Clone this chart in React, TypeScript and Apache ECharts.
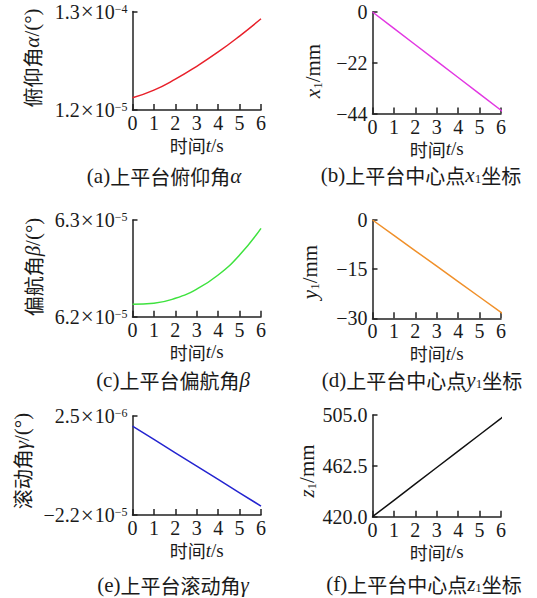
import React, { useEffect, useRef } from "react";
import * as echarts from "echarts";

// Time samples (s)
const TIME = [0, 1, 2, 3, 4, 5, 6];
// Linear traces run slightly past 6 s
const TIME_XY = [0, 1, 2, 3, 4, 5, 6, 6.25];
const TIME_Z = [0, 1, 2, 3, 4, 5, 6, 6.2];

// (a) pitch angle α, in units of 1e-5 °
const PITCH_ALPHA = [2.66, 3.58, 4.89, 6.44, 8.15, 10.06, 12.13];
const PITCH_TICKS = [1.2, 13];

// (b) platform centre x1, mm
const X1 = [0, -7.1, -14.2, -21.3, -28.4, -35.5, -42.6, -44.4];
const X1_TICKS = [-44, -22, 0];

// (c) yaw angle β, in units of 1e-5 °
const YAW_BETA = [6.2128, 6.2139, 6.219, 6.2286, 6.2431, 6.2638, 6.2914];
const YAW_TICKS = [6.2, 6.3];

// (d) platform centre y1, mm
const Y1 = [0, -4.7, -9.4, -14.1, -18.8, -23.5, -28.2, -29.4];
const Y1_TICKS = [-30, -15, 0];

// (e) roll angle γ, in units of 1e-6 °
const ROLL_GAMMA = [0, -3.3, -6.6, -9.9, -13.2, -16.5, -19.8];
const ROLL_TICKS = [-22, 2.5];

// (f) platform centre z1, mm
const Z1 = [420, 433.7, 447.4, 461.1, 474.8, 488.5, 502.2, 505];
const Z1_TICKS = [420, 462.5, 505];

const SERIF = "Liberation Serif";
const CJK = "Noto Sans CJK SC";
const INK = "#1a1a1a";
const AXIS = "#222222";

const rich = (size: number, lh?: number) => ({
  n: { fontFamily: SERIF, fontSize: size, color: INK, lineHeight: lh },
  i: { fontFamily: SERIF, fontSize: size, fontStyle: "italic", color: INK, lineHeight: lh },
  c: { fontFamily: CJK, fontSize: size - 1, color: INK, lineHeight: lh },
  x: {
    fontFamily: SERIF, fontSize: size + 3, color: INK, lineHeight: lh,
    verticalAlign: "middle", padding: [0, 1, 0, 1],
  },
  sup: { fontFamily: SERIF, fontSize: Math.round(size * 0.62), color: INK, verticalAlign: "top" },
  sub: { fontFamily: SERIF, fontSize: Math.round(size * 0.62), color: INK, verticalAlign: "bottom" },
});

const minus = (s: string) => s.replace(/-/g, "\u2212");

// value v expressed in units of 10^unitExp -> "m.m×10^e"
const sciLabel = (unitExp: number) => (v: number) => {
  const p = Math.floor(Math.log10(Math.abs(v)) + 1e-9);
  const mant = v / Math.pow(10, p);
  return `{n|${minus(mant.toFixed(1))}}{x|×}{n|10}{sup|${minus(String(p + unitExp))}}`;
};

const zip = (xs: number[], ys: number[]) => xs.map((x, k) => [x, ys[k]]);

type Panel = {
  grid: { left: number; top: number; width: number; height: number };
  x: number[];
  y: number[];
  color: string;
  smooth: boolean;
  min: number;
  max: number;
  ticks: number[];
  fmt: (v: number) => string;
  yName: string;
  yNamePos: [number, number];
  caption: string;
  captionPos: [number, number];
};

const PANELS: Panel[] = [
  {
    grid: { left: 132.5, top: 11, width: 128.5, height: 99 },
    x: TIME, y: PITCH_ALPHA, color: "#e8202a", smooth: true,
    min: PITCH_TICKS[0], max: PITCH_TICKS[1], ticks: PITCH_TICKS, fmt: sciLabel(-5),
    yName: "{c|俯仰角}{i|α}{n|/(°)}", yNamePos: [32, 58],
    caption: "{n|(a)}{c|上平台俯仰角}{i|α}", captionPos: [164, 176],
  },
  {
    grid: { left: 372.5, top: 12, width: 128.5, height: 101.5 },
    x: TIME_XY, y: X1, color: "#e238e2", smooth: false,
    min: X1_TICKS[0], max: X1_TICKS[2], ticks: X1_TICKS, fmt: (v) => minus(String(v)),
    yName: "{i|x}{sub|1}{n|/mm}", yNamePos: [313, 71],
    caption: "{n|(b)}{c|上平台中心点}{i|x}{sub|1}{c|坐标}", captionPos: [421, 175],
  },
  {
    grid: { left: 132.5, top: 220, width: 128.5, height: 96.7 },
    x: TIME, y: YAW_BETA, color: "#3ee23e", smooth: true,
    min: YAW_TICKS[0], max: YAW_TICKS[1], ticks: YAW_TICKS, fmt: sciLabel(-5),
    yName: "{c|偏航角}{i|β}{n|/(°)}", yNamePos: [33, 267],
    caption: "{n|(c)}{c|上平台偏航角}{i|β}", captionPos: [173, 380],
  },
  {
    grid: { left: 372.5, top: 220, width: 128.5, height: 98.3 },
    x: TIME_XY, y: Y1, color: "#f0902a", smooth: false,
    min: Y1_TICKS[0], max: Y1_TICKS[2], ticks: Y1_TICKS, fmt: (v) => minus(String(v)),
    yName: "{i|y}{sub|1}{n|/mm}", yNamePos: [310, 272],
    caption: "{n|(d)}{c|上平台中心点}{i|y}{sub|1}{c|坐标}", captionPos: [422, 380],
  },
  {
    grid: { left: 132.5, top: 416, width: 128.5, height: 99 },
    x: TIME, y: ROLL_GAMMA, color: "#2424d0", smooth: false,
    min: ROLL_TICKS[0], max: ROLL_TICKS[1], ticks: ROLL_TICKS, fmt: sciLabel(-6),
    yName: "{c|滚动角}{i|γ}{n|/(°)}", yNamePos: [22, 461],
    caption: "{n|(e)}{c|上平台滚动角}{i|γ}", captionPos: [173, 585],
  },
  {
    grid: { left: 372.5, top: 415, width: 128.5, height: 101.7 },
    x: TIME_Z, y: Z1, color: "#111111", smooth: false,
    min: Z1_TICKS[0], max: Z1_TICKS[2], ticks: Z1_TICKS, fmt: (v) => v.toFixed(1),
    yName: "{i|z}{sub|1}{n|/mm}", yNamePos: [307, 471],
    caption: "{n|(f)}{c|上平台中心点}{i|z}{sub|1}{c|坐标}", captionPos: [424, 584],
  },
];

const lineStyle = { color: AXIS, width: 1.5 };

function buildOption(): echarts.EChartsOption {
  const tickRich = rich(20, 18);
  return {
    animation: false,
    backgroundColor: "#ffffff",
    grid: PANELS.map((p) => ({ ...p.grid, containLabel: false })),
    xAxis: PANELS.map((p, i) => ({
      gridIndex: i,
      type: "value",
      min: 0,
      max: 6,
      interval: 1,
      axisLine: { show: true, onZero: false, lineStyle },
      axisTick: { show: true, inside: true, length: 6, lineStyle },
      axisLabel: { fontFamily: SERIF, fontSize: 20, lineHeight: 14, color: INK, margin: 6 },
      splitLine: { show: false },
      name: "{c|时间}{i|t}{n|/s}",
      nameLocation: "middle",
      nameGap: 27,
      nameTextStyle: { rich: rich(19, 16) },
    })),
    yAxis: PANELS.map((p, i) => ({
      gridIndex: i,
      type: "value",
      min: p.min,
      max: p.max,
      axisLine: { show: true, onZero: false, lineStyle },
      axisTick: { show: true, inside: true, length: 5, lineStyle, customValues: p.ticks },
      axisLabel: {
        customValues: p.ticks,
        formatter: (v: number) => {
          const s = p.fmt(v);
          return s.startsWith("{") ? s : `{n|${s}}`;
        },
        margin: 5,
        rich: tickRich,
      },
      splitLine: { show: false },
    })),
    series: PANELS.map((p, i) => ({
      type: "line",
      xAxisIndex: i,
      yAxisIndex: i,
      data: zip(p.x, p.y),
      showSymbol: false,
      smooth: p.smooth,
      clip: false,
      lineStyle: { color: p.color, width: 1.5 },
    })),
    graphic: [
      ...PANELS.map((p) => ({
        type: "text",
        x: p.yNamePos[0],
        y: p.yNamePos[1],
        rotation: Math.PI / 2,
        style: {
          text: p.yName,
          rich: rich(21),
          fontSize: 21,
          fontFamily: SERIF,
          fill: INK,
          align: "center",
          verticalAlign: "middle",
          textAlign: "center",
          textVerticalAlign: "middle",
        },
      })),
      ...PANELS.map((p) => ({
        type: "text",
        x: p.captionPos[0],
        y: p.captionPos[1],
        style: {
          text: p.caption,
          rich: rich(21, 20),
          fontSize: 21,
          fontFamily: SERIF,
          fill: INK,
          align: "center",
          verticalAlign: "middle",
          textAlign: "center",
          textVerticalAlign: "middle",
        },
      })),
    ],
  } as echarts.EChartsOption;
}

export default function App() {
  const ref = useRef<HTMLDivElement>(null);
  useEffect(() => {
    if (!ref.current) return;
    const chart = echarts.init(ref.current, undefined, { renderer: "svg" });
    chart.setOption(buildOption());
    return () => chart.dispose();
  }, []);
  return (
    <div
      ref={ref}
      style={{ position: "absolute", left: 0, top: 0, width: 537, height: 598 }}
    />
  );
}
